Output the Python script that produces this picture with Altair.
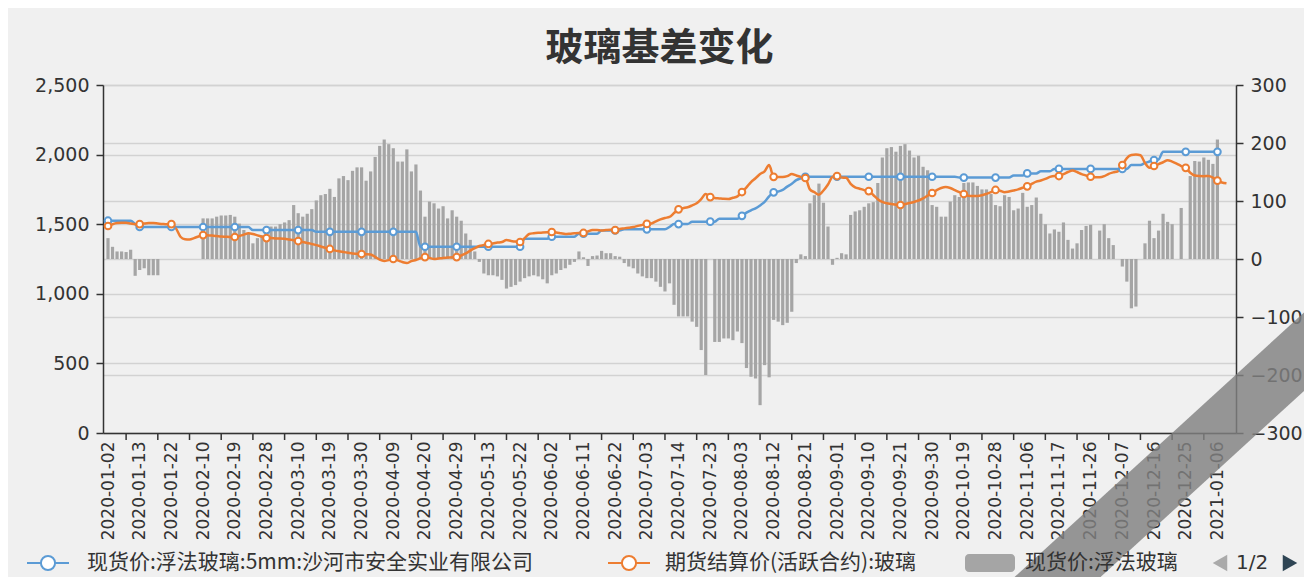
import json
import altair as alt
import pandas as pd

TITLE = "玻璃基差变化"
NAME_SPOT = "现货价:浮法玻璃:5mm:沙河市安全实业有限公司"
NAME_FUT = "期货结算价(活跃合约):玻璃"
NAME_BASIS = "现货价:浮法玻璃"

BLUE = "#5b9bd5"
ORANGE = "#ed7d31"
GRAY = "#a5a5a5"
TXT = "#333333"

x_labels = ["2020-01-02", "2020-01-13", "2020-01-22", "2020-02-10", "2020-02-19", "2020-02-28",
            "2020-03-10", "2020-03-19", "2020-03-30", "2020-04-09", "2020-04-20", "2020-04-29",
            "2020-05-13", "2020-05-22", "2020-06-02", "2020-06-11", "2020-06-22", "2020-07-03",
            "2020-07-14", "2020-07-23", "2020-08-03", "2020-08-12", "2020-08-21", "2020-09-01",
            "2020-09-10", "2020-09-21", "2020-09-30", "2020-10-19", "2020-10-28", "2020-11-06",
            "2020-11-17", "2020-11-26", "2020-12-07", "2020-12-16", "2020-12-25", "2021-01-06"]
x_label_index = [0, 7, 14, 21, 28, 35, 42, 49, 56, 63, 70, 77, 84, 91, 98, 105, 112, 119,
                 126, 133, 140, 147, 154, 161, 168, 175, 182, 189, 196, 203, 210, 217, 224, 231, 238, 245]
tick_index = [4, 11, 18, 25, 32, 39, 46, 53, 60, 67, 74, 81, 88, 95, 102, 109, 116, 123,
              130, 137, 144, 151, 158, 165, 172, 179, 186, 193, 200, 207, 214, 221, 228, 235, 242]
n_categories = 249

spot = [
    1525, 1525, 1525, 1525, 1525, 1525, 1500, 1480, 1480, 1480,
    1480, 1480, 1480, 1480, 1480, 1480, 1480, 1480, 1480, 1480,
    1480, 1480, 1480, 1480, 1480, 1480, 1480, 1480, 1480, 1480,
    1480, 1480, 1458, 1458, 1458, 1458, 1458, 1458, 1458, 1458,
    1458, 1458, 1458, 1458, 1458, 1458, 1445, 1445, 1445, 1445,
    1445, 1445, 1445, 1445, 1445, 1445, 1445, 1445, 1445, 1445,
    1445, 1445, 1445, 1445, 1445, 1445, 1445, 1445, 1445, 1338,
    1338, 1338, 1338, 1338, 1338, 1338, 1338, 1338, 1338, 1338,
    1338, 1338, 1338, 1338, 1338, 1338, 1338, 1338, 1338, 1338,
    1338, 1338, 1395, 1395, 1395, 1395, 1395, 1395, 1410, 1410,
    1410, 1410, 1410, 1410, 1432, 1432, 1432, 1432, 1432, 1455,
    1455, 1455, 1455, 1455, 1463, 1463, 1463, 1463, 1463, 1463,
    1463, 1463, 1463, 1463, 1480, 1501, 1501, 1501, 1501, 1518,
    1518, 1518, 1518, 1518, 1518, 1540, 1540, 1540, 1540, 1540,
    1560, 1583, 1600, 1614, 1635, 1660, 1700, 1729, 1735, 1746,
    1770, 1790, 1817, 1830, 1841, 1841, 1841, 1841, 1841, 1841,
    1841, 1841, 1841, 1841, 1841, 1841, 1841, 1841, 1841, 1841,
    1841, 1841, 1841, 1841, 1841, 1841, 1841, 1841, 1841, 1841,
    1841, 1841, 1841, 1841, 1841, 1841, 1841, 1841, 1835, 1835,
    1835, 1835, 1835, 1835, 1835, 1835, 1835, 1835, 1835, 1835,
    1850, 1850, 1850, 1865, 1865, 1865, 1880, 1880, 1880, 1897,
    1897, 1897, 1897, 1897, 1897, 1897, 1897, 1897, 1897, 1897,
    1897, 1897, 1897, 1897, 1897, 1897, 1925, 1925, 1925, 1940,
    1950, 1961, 1965, 2020, 2020, 2020, 2020, 2020, 2020, 2020,
    2020, 2020, 2020, 2020, 2020, 2020,
]

futures = [
    1487, 1500, 1508, 1510, 1510, 1505, 1500, 1500, 1505, 1508,
    1508, 1505, 1502, 1500, 1500, 1470, 1410, 1392, 1390, 1400,
    1412, 1422, 1420, 1418, 1415, 1412, 1410, 1408, 1408, 1415,
    1425, 1435, 1430, 1420, 1410, 1400, 1400, 1398, 1398, 1395,
    1390, 1385, 1379, 1372, 1365, 1358, 1350, 1340, 1330, 1322,
    1312, 1305, 1300, 1295, 1290, 1288, 1286, 1285, 1283, 1265,
    1245, 1236, 1242, 1250, 1240, 1228, 1221, 1235, 1243, 1255,
    1264, 1258, 1250, 1254, 1258, 1260, 1262, 1264, 1275, 1290,
    1310, 1328, 1343, 1350, 1358, 1362, 1368, 1372, 1386, 1380,
    1375, 1372, 1400, 1430, 1435, 1438, 1440, 1442, 1444, 1440,
    1435, 1430, 1432, 1435, 1437, 1437, 1448, 1458, 1458, 1455,
    1458, 1460, 1458, 1465, 1470, 1475, 1480, 1488, 1495, 1502,
    1505, 1520, 1535, 1545, 1552, 1580, 1607, 1615, 1622, 1635,
    1650, 1680, 1717, 1695, 1688, 1685, 1682, 1681, 1690, 1700,
    1731, 1765, 1803, 1830, 1860, 1880, 1925, 1840, 1839, 1839,
    1845, 1860, 1850, 1840, 1832, 1750, 1730, 1712, 1742, 1785,
    1840, 1846, 1835, 1833, 1790, 1765, 1755, 1745, 1738, 1710,
    1680, 1660, 1650, 1645, 1640, 1638, 1645, 1652, 1660, 1670,
    1685, 1705, 1724, 1745, 1760, 1767, 1760, 1745, 1730, 1717,
    1705, 1703, 1703, 1708, 1718, 1730, 1746, 1740, 1730, 1735,
    1742, 1750, 1762, 1772, 1790, 1806, 1814, 1825, 1840, 1846,
    1846, 1860, 1875, 1885, 1875, 1860, 1850, 1841, 1838, 1837,
    1845, 1862, 1872, 1880, 1925, 1975, 1997, 2000, 1995, 1940,
    1905, 1918, 1932, 1945, 1960, 1950, 1935, 1918, 1905, 1870,
    1850, 1846, 1845, 1846, 1835, 1813, 1800, 1794,
]

basis = [
    36, 21, 13, 13, 12, 16, -29, -19, -16, -28,
    -28, -28, None, None, None, None, None, None, None, None,
    None, 70, 70, 70, 73, 75, 75, 76, 73, 61,
    50, 44, 27, 36, 41, 57, 56, 56, 60, 63,
    67, 93, 79, 73, 78, 86, 101, 110, 112, 121,
    107, 139, 143, 136, 152, 158, 158, 135, 151, 176,
    195, 206, 198, 191, 168, 168, 189, 151, 163, 118,
    73, 99, 96, 87, 91, 70, 84, 73, 66, 44,
    33, 13, -5, -25, -28, -28, -30, -36, -51, -48,
    -45, -39, -33, -30, -28, -30, -35, -42, -28, -25,
    -19, -16, -10, -5, 13, 3, -12, 5, 6, 14,
    10, 10, 5, 4, -7, -13, -16, -25, -30, -33,
    -33, -39, -48, -56, -42, -79, -99, -99, -99, -108,
    -117, -157, -200, None, -143, -143, -137, -137, -140, -125,
    -145, -188, -203, -206, -252, -183, -204, -105, -108, -114,
    -110, -91, -7, 8, 5, 96, 110, 130, 97, 56,
    -10, 2, 10, 8, 76, 82, 84, 90, 96, 98,
    131, 175, 191, 193, 185, 195, 198, 187, 175, 178,
    159, 153, 93, 90, 73, 73, 99, 110, 107, 131,
    132, 132, 126, 120, 120, 112, 93, 91, 110, 107,
    84, 87, 114, 90, 93, 106, 78, 60, 44, 51,
    47, 63, 33, 18, 27, 50, 57, 59, None, 49,
    60, 36, 24, None, -13, -39, -85, -82, None, 27,
    66, 36, 49, 78, 64, 60, None, 88, None, 143,
    169, 168, 175, 171, 164, 206,
]

W, H = 1133, 348

df_bar = pd.DataFrame({"i": list(range(len(basis))), "v": basis}).dropna()
df_spot = pd.DataFrame({"i": list(range(len(spot))), "v": spot})
df_fut = pd.DataFrame({"i": list(range(len(futures))), "v": futures})
df_spot_pts = df_spot[df_spot["i"].isin(x_label_index)]
df_fut_pts = df_fut[df_fut["i"].isin(x_label_index)]
df_ticks = pd.DataFrame({"i": tick_index})

label_expr = json.dumps(x_labels) + "[round(datum.value/7)]"

x_scale = alt.Scale(domain=[0, n_categories - 1], nice=False, zero=False)
x_axis = alt.Axis(values=x_label_index, labelExpr=label_expr, labelAngle=270,
                  ticks=False, tickSize=0, grid=False, domain=True, domainColor=TXT,
                  domainWidth=1.5, labelFontSize=17, labelColor=TXT, labelFont="DejaVu Sans",
                  labelPadding=8, labelOverlap=False, labelBound=False, labelFlush=False,
                  title=None)


def xenc():
    return alt.X("i:Q", scale=x_scale, axis=x_axis)


left_axis = alt.Axis(orient="left", values=[0, 500, 1000, 1500, 2000, 2500], format=",.0f",
                     grid=True, gridColor="#d2d2d2", gridWidth=1.5, domain=True,
                     domainColor=TXT, domainWidth=1.5, ticks=True, tickColor=TXT,
                     tickSize=7, tickWidth=1.5, labelFontSize=19, labelColor=TXT,
                     labelFont="DejaVu Sans", labelPadding=7, title=None)
right_axis = alt.Axis(orient="right", values=[-300, -200, -100, 0, 100, 200, 300], format=".0f",
                      grid=True, gridColor="#d2d2d2", gridWidth=1.5, domain=True,
                      domainColor=TXT, domainWidth=1.5, ticks=True, tickColor=TXT,
                      tickSize=7, tickWidth=1.5, labelFontSize=19, labelColor=TXT,
                      labelFont="DejaVu Sans", labelPadding=7, title=None)

y_left = alt.Scale(domain=[0, 2500], nice=False, zero=True)
y_right = alt.Scale(domain=[-300, 300], nice=False)

bars = alt.Chart(df_bar).mark_bar(size=3.2, color=GRAY).encode(
    x=xenc(), y=alt.Y("v:Q", scale=y_right, axis=right_axis))

spot_line = alt.Chart(df_spot).mark_line(color=BLUE, strokeWidth=2.5, interpolate="monotone").encode(
    x=xenc(), y=alt.Y("v:Q", scale=y_left, axis=left_axis))
fut_line = alt.Chart(df_fut).mark_line(color=ORANGE, strokeWidth=2.5, interpolate="monotone").encode(
    x=xenc(), y=alt.Y("v:Q", scale=y_left, axis=left_axis))
spot_pts = alt.Chart(df_spot_pts).mark_point(shape="circle", filled=True, fill="white", stroke=BLUE,
                                             strokeWidth=2, size=45, opacity=1).encode(
    x=xenc(), y=alt.Y("v:Q", scale=y_left, axis=left_axis))
fut_pts = alt.Chart(df_fut_pts).mark_point(shape="circle", filled=True, fill="white", stroke=ORANGE,
                                           strokeWidth=2, size=45, opacity=1).encode(
    x=xenc(), y=alt.Y("v:Q", scale=y_left, axis=left_axis))

left_layer = alt.layer(spot_line, fut_line, spot_pts, fut_pts)

ticks = alt.Chart(df_ticks).mark_rule(color=TXT, strokeWidth=1.5).encode(
    x=xenc(), y=alt.value(H), y2=alt.value(H + 7))

one = pd.DataFrame({"k": [0]})
LY = 478


def legend_text(txt, x, size=21):
    return alt.Chart(pd.DataFrame({"t": [txt]})).mark_text(
        align="left", baseline="middle", fontSize=size, font="Noto Sans CJK SC", color=TXT
    ).encode(text="t:N", x=alt.value(x), y=alt.value(LY))


leg = [
    alt.Chart(one).mark_rule(color=BLUE, strokeWidth=2).encode(
        x=alt.value(-76), x2=alt.value(-34), y=alt.value(LY)),
    alt.Chart(one).mark_point(shape="circle", filled=True, fill="white", stroke=BLUE, strokeWidth=2,
                              size=200, opacity=1).encode(x=alt.value(-55), y=alt.value(LY)),
    legend_text(NAME_SPOT, -16),
    alt.Chart(one).mark_rule(color=ORANGE, strokeWidth=2).encode(
        x=alt.value(505), x2=alt.value(547), y=alt.value(LY)),
    alt.Chart(one).mark_point(shape="circle", filled=True, fill="white", stroke=ORANGE, strokeWidth=2,
                              size=200, opacity=1).encode(x=alt.value(526), y=alt.value(LY)),
    legend_text(NAME_FUT, 562),
    alt.Chart(one).mark_rect(color=GRAY, cornerRadius=4).encode(
        x=alt.value(862), x2=alt.value(912), y=alt.value(LY - 9), y2=alt.value(LY + 9)),
    legend_text(NAME_BASIS, 922),
    alt.Chart(one).mark_point(shape="triangle-left", filled=True, color="#aaaaaa", size=280,
                              opacity=1).encode(x=alt.value(1117), y=alt.value(LY)),
    alt.Chart(pd.DataFrame({"t": ["1/2"]})).mark_text(
        align="left", baseline="middle", fontSize=20, font="DejaVu Sans", color=TXT
    ).encode(text="t:N", x=alt.value(1133), y=alt.value(LY)),
    alt.Chart(one).mark_point(shape="triangle-right", filled=True, color="#2f4554", size=280,
                              opacity=1).encode(x=alt.value(1187), y=alt.value(LY)),
]

band = alt.Chart(one).mark_rule(color="#808080", strokeWidth=58, opacity=0.82, strokeCap="butt").encode(
    x=alt.value(890), x2=alt.value(1262), y=alt.value(551), y2=alt.value(211))

chart = alt.layer(bars, left_layer, ticks, band, *leg).resolve_scale(y="independent").properties(
    width=W, height=H,
    title=alt.TitleParams(TITLE, fontSize=38, fontWeight="bold", font="Noto Sans CJK SC",
                          color=TXT, anchor="middle", offset=8, dx=-10),
    autosize=alt.AutoSizeParams(type="none"),
    padding={"left": 95, "top": 77, "right": 68, "bottom": 144},
).configure(background="#f0f0f0").configure_view(stroke=None)

chart.save("out.html", embed_options={"renderer": "svg", "actions": False})
